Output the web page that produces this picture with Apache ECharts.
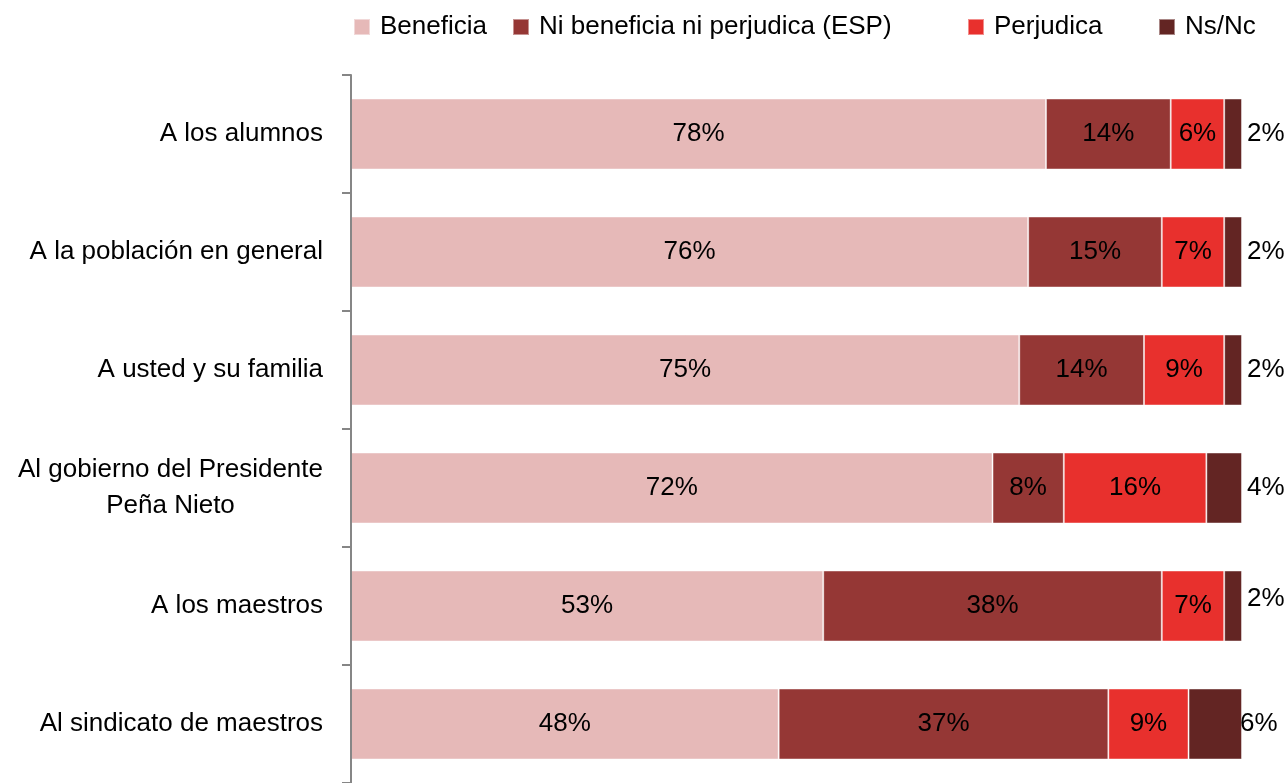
<!DOCTYPE html>
<html>
<head>
<meta charset="utf-8">
<script src="https://cdn.jsdelivr.net/npm/echarts@6/dist/echarts.min.js"></script>
<style>
  html, body { margin: 0; padding: 0; background: #fff; }
  #chart { width: 1287px; height: 783px; }
</style>
</head>
<body>
<div id="chart"></div>
<script>
// Opinion on who benefits from the education reform (percent of respondents)
const categories = [
  'A los alumnos',
  'A la población en general',
  'A usted y su familia',
  'Al gobierno del Presidente\nPeña Nieto',
  'A los maestros',
  'Al sindicato de maestros'
];
const beneficia = [78, 76, 75, 72, 53, 48];
const niBeneficiaNiPerjudica = [14, 15, 14, 8, 38, 37];
const perjudica = [6, 7, 9, 16, 7, 9];
const nsNc = [2, 2, 2, 4, 2, 6];

const seriesNames = ['Beneficia', 'Ni beneficia ni perjudica (ESP)', 'Perjudica', 'Ns/Nc'];
const seriesColors = ['#E6B9B8', '#953735', '#E8302D', '#632523'];
const legendLefts = [353, 512, 967, 1158];

const FONT = '"Liberation Sans", Arial, sans-serif';
const FS = 26;

const chart = echarts.init(document.getElementById('chart'), null, { renderer: 'canvas' });

const insideLabel = {
  show: true,
  position: 'inside',
  formatter: '{c}%',
  color: '#000',
  fontFamily: FONT,
  fontSize: FS
};

function barSeries(idx, values, label) {
  return {
    name: seriesNames[idx],
    type: 'bar',
    stack: 'total',
    barWidth: 71,
    data: values,
    itemStyle: { color: seriesColors[idx], borderColor: 'rgba(255,255,255,0.45)', borderWidth: 1 },
    label: label,
    emphasis: { disabled: true }
  };
}

// Ns/Nc values sit just past the end of each bar
const nsNcData = nsNc.map(function (v, i) {
  const item = { value: v };
  if (i === 4) item.label = { offset: [0, -7] };
  if (i === 5) item.label = { offset: [-7, 0] };
  return item;
});

const legends = seriesNames.map(function (name, i) {
  return {
    data: [name],
    left: legendLefts[i],
    top: 13,
    padding: 0,
    itemWidth: 16,
    itemHeight: 16,
    icon: 'rect',
    selectedMode: false,
    textStyle: { color: '#000', fontFamily: FONT, fontSize: FS, lineHeight: 28, padding: [0, 0, 0, 5] }
  };
});

chart.setOption({
  animation: false,
  color: seriesColors,
  legend: legends,
  grid: { left: 351, right: 45, top: 75, bottom: -3, containLabel: false },
  xAxis: {
    type: 'value',
    min: 0,
    max: 100,
    show: false
  },
  yAxis: {
    type: 'category',
    inverse: true,
    offset: 1,
    z: 5,
    data: categories,
    axisLine: { show: true, lineStyle: { color: '#868686', width: 2 } },
    axisTick: { show: true, length: 9, lineStyle: { color: '#868686', width: 2 } },
    axisLabel: {
      margin: 27,
      color: '#000',
      fontFamily: FONT,
      fontSize: FS,
      lineHeight: 36,
      formatter: function (v) {
        return v.split('\n').map(function (s) { return '{c|' + s + '}'; }).join('\n');
      },
      rich: {
        c: { align: 'center', color: '#000', fontFamily: FONT, fontSize: FS, lineHeight: 36 }
      }
    },
    splitLine: { show: false }
  },
  series: [
    barSeries(0, beneficia, insideLabel),
    barSeries(1, niBeneficiaNiPerjudica, insideLabel),
    barSeries(2, perjudica, insideLabel),
    barSeries(3, nsNcData, {
      show: true,
      position: 'right',
      distance: 5,
      formatter: '{c}%',
      color: '#000',
      fontFamily: FONT,
      fontSize: FS
    })
  ]
});
</script>
</body>
</html>
